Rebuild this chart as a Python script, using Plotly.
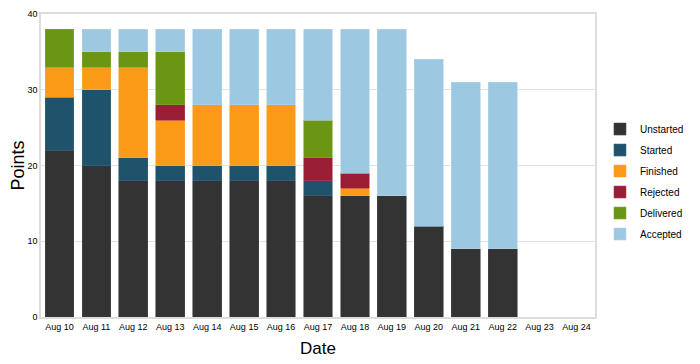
import plotly.graph_objects as go

dates = ["Aug 10", "Aug 11", "Aug 12", "Aug 13", "Aug 14", "Aug 15", "Aug 16",
         "Aug 17", "Aug 18", "Aug 19", "Aug 20", "Aug 21", "Aug 22", "Aug 23", "Aug 24"]
unstarted = [22, 20, 18, 18, 18, 18, 18, 16, 16, 16, 12, 9, 9, None, None]
started   = [7, 10, 3, 2, 2, 2, 2, 2, 0, 0, 0, 0, 0, None, None]
finished  = [4, 3, 12, 6, 8, 8, 8, 0, 1, 0, 0, 0, 0, None, None]
rejected  = [0, 0, 0, 2, 0, 0, 0, 3, 2, 0, 0, 0, 0, None, None]
delivered = [5, 2, 2, 7, 0, 0, 0, 5, 0, 0, 0, 0, 0, None, None]
accepted  = [0, 3, 3, 3, 10, 10, 10, 12, 19, 22, 22, 22, 22, None, None]
y_ticks = [0, 10, 20, 30, 40]

series = [
    ("Unstarted", unstarted, "#333333", "#4a4a4a"),
    ("Started", started, "#1F536B", "#3a687e"),
    ("Finished", finished, "#FA9A16", "#fbab40"),
    ("Rejected", rejected, "#9A1D36", "#ab4458"),
    ("Delivered", delivered, "#6A9613", "#82a83a"),
    ("Accepted", accepted, "#9DC8E1", "#b3d5ea"),
]

fig = go.Figure()
for name, vals, col, edge in series:
    fig.add_trace(go.Bar(
        x=dates, y=[v if v else None for v in vals], name=name,
        legendgroup=name,
        marker=dict(color=col, line=dict(color=edge, width=0.6)),
    ))

# page body has an 8px margin, so the figure is sized to fit inside the window
fig.update_layout(
    barmode="stack",
    bargap=0.22,
    width=692, height=356,
    margin=dict(l=33, r=105, t=6, b=47, autoexpand=False),
    paper_bgcolor="white", plot_bgcolor="white",
    font=dict(family="Liberation Sans, Arial, sans-serif", color="#000000"),
    legend=dict(x=1.009, y=0.447, xanchor="left", yanchor="middle",
                font=dict(size=10), itemwidth=30, tracegroupgap=2,
                traceorder="grouped"),
    xaxis=dict(
        title=dict(text="Date", font=dict(size=17), standoff=12),
        tickfont=dict(size=9), automargin=False,
        showline=True, linecolor="#dddddd", linewidth=1.5, mirror=True,
        ticks="", showgrid=False,
    ),
    yaxis=dict(
        title=dict(text="Points", font=dict(size=18), standoff=0),
        range=[0, 40], tickvals=y_ticks, tickfont=dict(size=9), automargin=False,
        showline=True, linecolor="#dddddd", linewidth=1.5, mirror=True,
        gridcolor="#e2e2e2", gridwidth=1, zeroline=False, ticks="",
    ),
)

fig.write_html("out.html")
